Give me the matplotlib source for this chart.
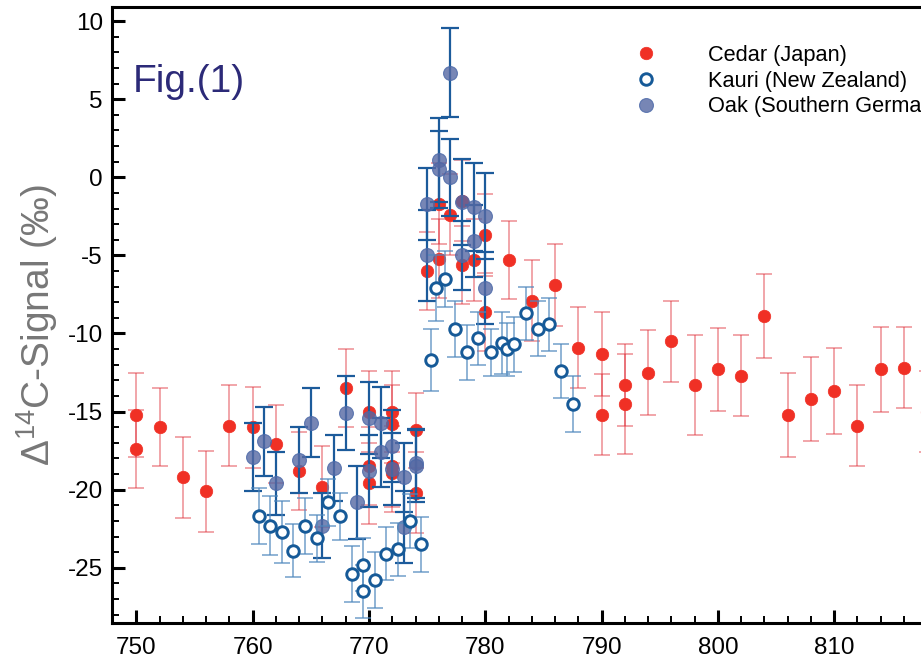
import matplotlib
matplotlib.use("Agg")
import matplotlib.pyplot as plt
from matplotlib.ticker import MultipleLocator

plt.rcParams["font.family"] = ["Liberation Sans", "DejaVu Sans"]
plt.rcParams["mathtext.fontset"] = "custom"
plt.rcParams["mathtext.rm"] = "Liberation Sans"
plt.rcParams["mathtext.it"] = "Liberation Sans:italic"
plt.rcParams["mathtext.bf"] = "Liberation Sans:bold"
plt.rcParams["axes.unicode_minus"] = False

# Cedar (Japan)
cedar_year = [750, 750, 752, 754, 756, 758, 760, 762, 764, 766, 768, 770, 770, 770,
              772, 772, 772, 772, 774, 774, 775, 776, 776, 777, 778, 778, 779, 780,
              780, 782, 784, 786, 788, 790, 790, 792, 792, 794, 796, 798, 800, 802,
              804, 806, 808, 810, 812, 814, 816, 818]
cedar_val = [-15.2, -17.4, -16.0, -19.2, -20.1, -15.9, -16.0, -17.1, -18.8, -19.8,
             -13.5, -15.0, -18.5, -19.6, -15.0, -15.8, -18.5, -18.9, -16.2, -20.2,
             -6.0, -1.7, -5.2, -2.4, -1.5, -5.6, -5.3, -3.7, -8.6, -5.3, -7.9, -6.9,
             -10.9, -11.3, -15.2, -13.3, -14.5, -12.5, -10.5, -13.3, -12.3, -12.7,
             -8.9, -15.2, -14.2, -13.7, -15.9, -12.3, -12.2, -15.0]
cedar_err = [2.7, 2.5, 2.5, 2.6, 2.6, 2.6, 2.6, 2.5, 2.5, 2.6, 2.5, 2.6, 2.5, 2.6,
             2.6, 2.5, 2.6, 2.5, 2.4, 2.6, 2.5, 2.6, 2.5, 2.6, 2.6, 2.5, 2.6, 2.6,
             2.5, 2.5, 2.6, 2.6, 2.6, 2.7, 2.6, 2.6, 3.2, 2.7, 2.6, 3.2, 2.65, 2.6,
             2.7, 2.7, 2.7, 2.75, 2.6, 2.7, 2.6, 2.6]

# Kauri (New Zealand)
kauri_year = [760.5, 761.5, 762.5, 763.5, 764.5, 765.5, 766.5, 767.5, 768.5, 769.5,
              769.5, 770.5, 771.5, 772.5, 773.5, 774.5, 775.3, 775.8, 776.5, 777.4,
              778.4, 779.4, 780.5, 781.4, 781.9, 782.5, 783.5, 784.5, 785.5, 786.5,
              787.5]
kauri_val = [-21.7, -22.3, -22.7, -23.9, -22.3, -23.1, -20.8, -21.7, -25.4, -24.8,
             -26.5, -25.8, -24.1, -23.8, -22.0, -23.5, -11.7, -7.1, -6.5, -9.7,
             -11.2, -10.3, -11.2, -10.6, -11.0, -10.7, -8.7, -9.7, -9.4, -12.4, -14.5]
kauri_err = [1.8, 1.9, 2.0, 1.7, 1.8, 1.5, 1.5, 1.5, 1.8, 1.7, 1.7, 1.8, 1.7, 1.7,
             1.7, 1.75, 2.0, 2.1, 1.8, 1.8, 1.75, 1.7, 1.5, 2.0, 1.7, 1.75, 1.7,
             1.75, 1.7, 1.75, 1.8]

# Oak (Southern Germany)
oak_year = [760, 761, 762, 764, 765, 766, 767, 768, 769, 770, 770, 771, 771, 772,
            772, 773, 773, 774, 774, 775, 775, 776, 776, 777, 777, 778, 778, 779,
            779, 780, 780]
oak_val = [-17.9, -16.9, -19.6, -18.1, -15.7, -22.3, -18.6, -15.1, -20.8, -15.4,
           -18.8, -15.7, -17.6, -17.2, -18.7, -19.2, -22.4, -18.3, -18.5, -1.7,
           -5.0, 1.1, 0.5, 6.7, 0.0, -1.6, -5.0, -1.9, -4.1, -2.5, -7.1]
oak_err = [2.2, 2.2, 2.0, 2.1, 2.2, 2.1, 2.1, 2.35, 2.35, 2.3, 2.3, 2.3, 2.2, 2.3,
           2.3, 2.2, 2.3, 2.2, 2.3, 2.3, 2.9, 2.7, 2.45, 2.85, 2.45, 2.75, 2.2, 2.8,
           2.3, 2.75, 2.3]

RED = "#f03025"
RED_BAR = "#e0303a"
KAURI_EDGE = "#165a98"
KAURI_BAR = "#4f88bd"
OAK_FACE = "#5568a3"
OAK_BAR = "#1c5b9b"

fig = plt.figure(figsize=(9.21, 6.58), dpi=100)
# axes run past the right edge of the picture (the original is cropped there)
ax = fig.add_axes([0.1216, 0.0532, 0.9092, 0.9362])

ax.errorbar(cedar_year, cedar_val, yerr=cedar_err, fmt="none", ecolor=RED_BAR,
            elinewidth=1.1, capsize=5.5, capthick=1.1, alpha=0.55, zorder=2)
cedar_line, = ax.plot(cedar_year, cedar_val, linestyle="none", marker="o",
                      markersize=9, markerfacecolor=RED, markeredgecolor=RED,
                      markeredgewidth=0.5, label="Cedar (Japan)", zorder=3)

ax.errorbar(oak_year, oak_val, yerr=oak_err, fmt="none", ecolor=OAK_BAR,
            elinewidth=1.6, capsize=6.5, capthick=1.6, zorder=4)
oak_line, = ax.plot(oak_year, oak_val, linestyle="none", marker="o",
                    markersize=10, markerfacecolor=OAK_FACE,
                    markeredgecolor="#4a68a8", markeredgewidth=0.8, alpha=0.8,
                    label="Oak (Southern Germany)", zorder=5)

ax.errorbar(kauri_year, kauri_val, yerr=kauri_err, fmt="none", ecolor=KAURI_BAR,
            elinewidth=1.1, capsize=6, capthick=1.1, alpha=0.8, zorder=6)
kauri_line, = ax.plot(kauri_year, kauri_val, linestyle="none", marker="o",
                      markersize=8.3, markerfacecolor="white",
                      markeredgecolor=KAURI_EDGE, markeredgewidth=2.1,
                      label="Kauri (New Zealand)", zorder=7)

ax.set_xlim(747.9, 819.9)
ax.set_ylim(-28.53, 10.9)
ax.xaxis.set_major_locator(MultipleLocator(10))
ax.xaxis.set_minor_locator(MultipleLocator(2))
ax.yaxis.set_major_locator(MultipleLocator(5))
ax.yaxis.set_minor_locator(MultipleLocator(1))
ax.tick_params(axis="both", which="major", direction="in", length=9.5, width=2.2,
               labelsize=17.5, colors="black")
ax.tick_params(axis="both", which="minor", direction="in", length=5, width=1.4)
ax.tick_params(axis="x", which="major", pad=10)
ax.tick_params(axis="y", which="major", pad=6.5)
ax.tick_params(top=False, right=False, which="both")
for spine in ax.spines.values():
    spine.set_linewidth(2.2)

ax.set_ylabel("Δ$^{\\mathregular{14}}$C-Signal (‰)", fontsize=28, color="#777777")
ax.yaxis.set_label_coords(-0.062, 0.484)

ax.text(0.0251, 0.862, "Fig.(1)", transform=ax.transAxes, fontsize=28,
        color="#2c2a78", ha="left", va="baseline")

fig.legend(handles=[cedar_line, kauri_line, oak_line], loc="upper left",
           bbox_to_anchor=(0.6895, 0.9316), frameon=False, fontsize=15.7,
           handlelength=1.0, handletextpad=2.34, labelspacing=0.21,
           borderpad=0, borderaxespad=0)

fig.savefig("out.png", dpi=100)
